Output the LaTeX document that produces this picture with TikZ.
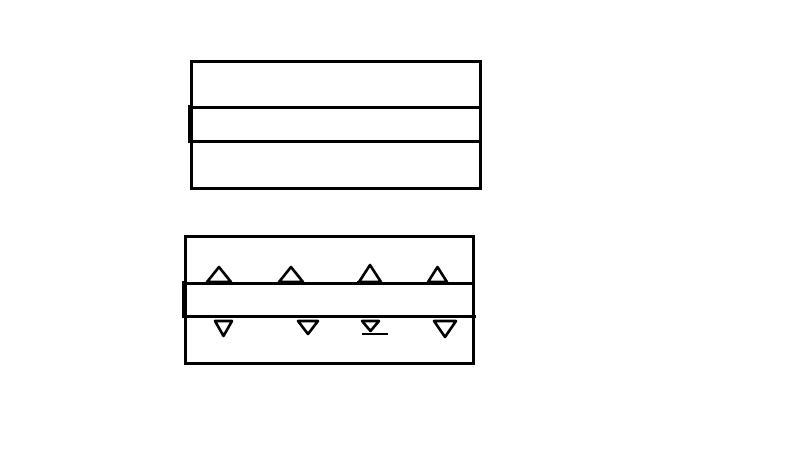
\documentclass[tikz,border=0pt]{standalone}
\usepackage{tikz}
\usetikzlibrary{calc}
\tikzset{
    sketch/.style={draw=black, line width=3pt},
    thick edge/.style={draw=black, line width=5pt},
    tri/.style={draw=black, line width=2.6pt, line join=round}
}

\begin{document}
\begin{tikzpicture}[x=1pt, y=-1pt]
    \useasboundingbox[fill=white] (0,0) rectangle (800,450);

    % Upper panel: plain box with a band
    \draw[sketch] (191,61) rectangle (480,188);
    \draw[sketch] (191,107) -- (480,107);
    \draw[sketch] (191,141) -- (480,141);
    \draw[thick edge] (190,105) -- (190,143);

    % Lower panel: box with a band and markers
    \draw[sketch] (185,236) rectangle (473,363);
    \draw[sketch] (185,283) -- (473,283);
    \draw[sketch] (185,316) -- (476,316);
    \draw[thick edge] (184,281) -- (184,318);

    % Markers above the band
    \foreach \l/\r/\t in {207/231/267, 279/303/267, 359/381/265, 428/447/267} {
        \draw[tri] (\l,282) -- ({(\l+\r)/2},\t) -- (\r,282) -- cycle;
    }
    \draw[line width=4pt] (357,283) -- (382,283);

    % Markers below the band
    \foreach \l/\r/\b in {215/232/336, 298/318/334, 362/379/331, 434/456/337} {
        \draw[tri] (\l,321) -- (\r,321) -- ({(\l+\r)/2},\b) -- cycle;
    }
    \draw[line width=1.5pt] (362,334) -- (388,334);
\end{tikzpicture}
\end{document}
